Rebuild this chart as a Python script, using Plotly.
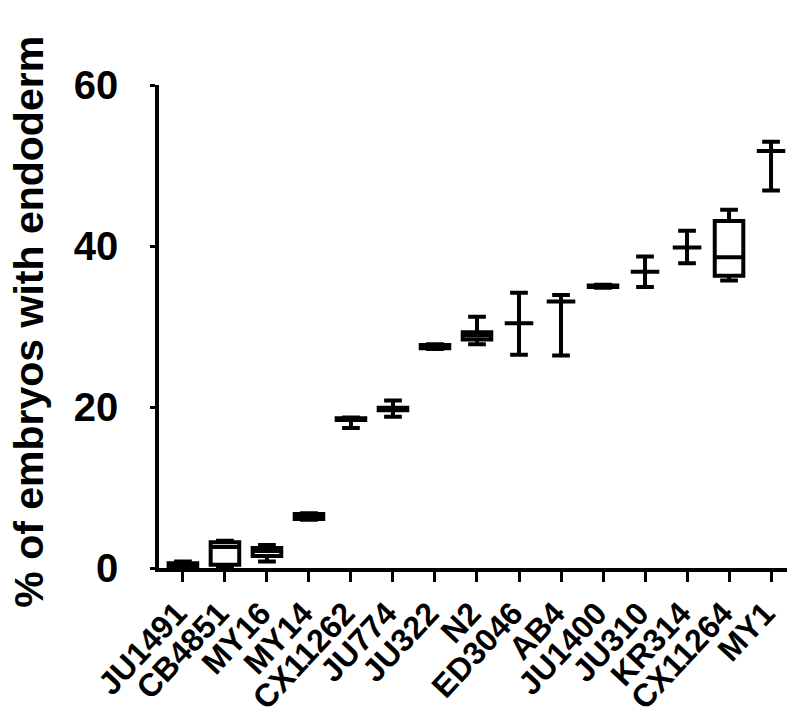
import plotly.graph_objects as go

# strains in plotted order
strains = ["JU1491", "CB4851", "MY16", "MY14", "CX11262", "JU774", "JU322", "N2",
           "ED3046", "AB4", "JU1400", "JU310", "KR314", "CX11264", "MY1"]

# box summary values (% of embryos with endoderm)
lower = [0.1, 0.2, 0.8, 6.0, 17.4, 18.8, 27.2, 27.8, 26.5, 26.4, 34.8, 34.9, 37.85, 35.7, 46.9]
q1 = [0.2, 0.4, 1.5, 6.1, 18.4, 19.6, 27.3, 28.4, 30.4, 33.1, 34.9, 36.8, 39.8, 36.3, 51.8]
median = [0.4, 2.6, 2.1, 6.4, 18.5, 19.75, 27.5, 28.9, 30.4, 33.1, 35.0, 36.8, 39.8, 38.6, 51.8]
q3 = [0.6, 3.2, 2.5, 6.7, 18.6, 19.9, 27.7, 29.3, 30.4, 33.1, 35.1, 36.8, 39.8, 43.1, 51.8]
upper = [0.8, 3.4, 2.86, 6.8, 18.7, 20.8, 27.8, 31.2, 34.2, 33.9, 35.2, 38.7, 41.9, 44.5, 52.96]

fig = go.Figure()
fig.add_trace(go.Box(
    x=strains, q1=q1, median=median, q3=q3,
    lowerfence=lower, upperfence=upper,
    boxpoints=False, fillcolor="white",
    line=dict(color="black", width=4),
    width=0.68, whiskerwidth=0.62,
    showlegend=False,
))

# page body has an 8px margin, so margins are shifted by that amount
fig.update_layout(
    width=799, height=716,
    margin=dict(l=151, r=20, t=77, b=156),
    plot_bgcolor="white", paper_bgcolor="white",
    font=dict(family="Liberation Sans, Arial", color="black"),
)
fig.update_xaxes(
    range=[-0.57, 14.38], tickmode="linear", dtick=1, automargin=False,
    showline=True, linecolor="black", linewidth=3.5,
    ticks="outside", ticklen=10, tickwidth=3, tickcolor="black",
    tickangle=-47, ticklabelshift=-6, showgrid=False, zeroline=False,
    tickfont=dict(size=32, weight="bold", family="Liberation Sans, Arial"),
)
fig.update_yaxes(
    range=[0, 60], tickvals=[0, 20, 40, 60], automargin=False,
    showline=True, linecolor="black", linewidth=3.5,
    ticks="outside", ticklen=5, tickwidth=3, tickcolor="black",
    ticklabelstandoff=24, showgrid=False, zeroline=False,
    tickfont=dict(size=40, weight="bold", family="Liberation Sans, Arial"),
)
fig.add_annotation(
    text="% of embryos with endoderm", textangle=-90,
    xref="paper", yref="paper", x=0, y=0.51,
    xshift=-130, xanchor="center", yanchor="middle",
    showarrow=False,
    font=dict(size=41, weight="bold", family="Liberation Sans, Arial"),
)

fig.write_html("out.html")
